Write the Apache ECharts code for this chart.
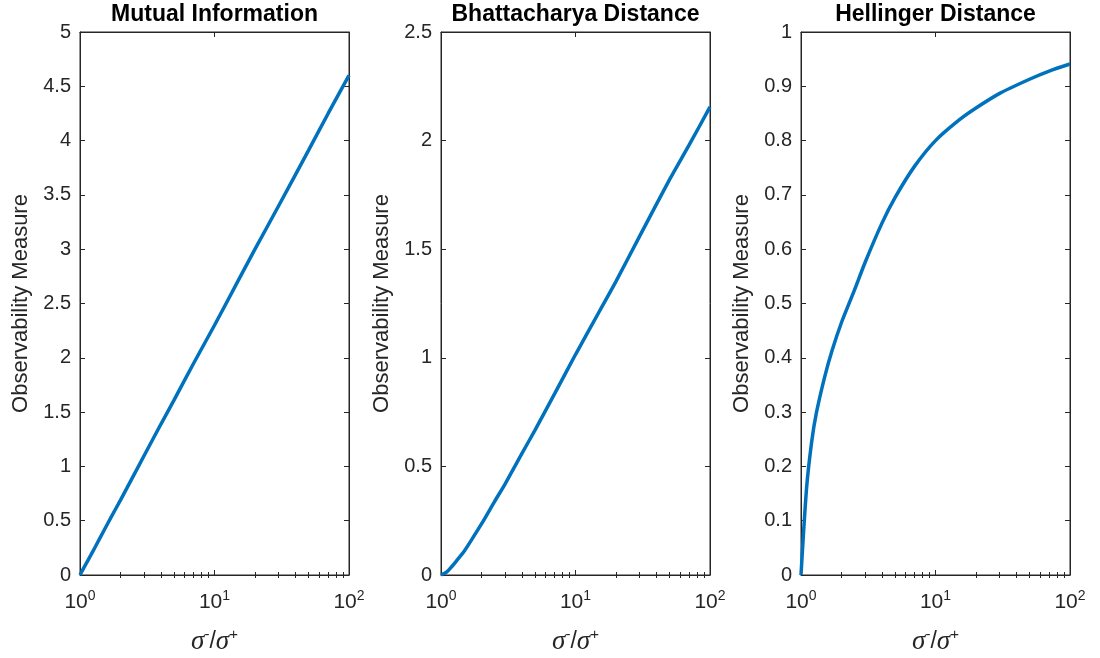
<!DOCTYPE html>
<html>
<head>
<meta charset="utf-8">
<title>Observability measures</title>
<script src="https://cdn.jsdelivr.net/npm/echarts@6/dist/echarts.min.js"></script>
<style>
  html, body { margin: 0; padding: 0; background: #fff; }
  #chart { width: 1100px; height: 658px; }
</style>
</head>
<body>
<div id="chart"></div>
<script>
// Ratio of standard deviations (sigma- / sigma+) where each measure is sampled
const ratio = [1, 1.1, 1.2, 1.3, 1.5, 1.7, 2, 2.5, 3, 4, 5, 7, 10, 15, 20, 30, 50, 70, 100];

// Observability measures at each ratio
const mutualInformation = [0, 0.095, 0.18, 0.26, 0.405, 0.53, 0.69, 0.915, 1.10, 1.39, 1.61, 1.95, 2.30, 2.71, 3.00, 3.40, 3.91, 4.25, 4.60];
const bhattacharyaDistance = [0, 0.013, 0.038, 0.064, 0.113, 0.165, 0.235, 0.338, 0.42, 0.56, 0.667, 0.835, 1.015, 1.212, 1.352, 1.56, 1.82, 1.98, 2.155];
const hellingerDistance = [0, 0.16, 0.245, 0.298, 0.365, 0.413, 0.465, 0.525, 0.576, 0.648, 0.695, 0.753, 0.80, 0.838, 0.86, 0.887, 0.913, 0.928, 0.941];

// Panel titles and y ranges
const titles = ['Mutual Information', 'Bhattacharya Distance', 'Hellinger Distance'];
const yMax = [5, 2.5, 1];
const yStep = [0.5, 0.5, 0.1];

// Log-axis tick positions
const majorTicks = [1, 10, 100];
const minorTicks = [2, 3, 4, 5, 6, 7, 8, 9, 20, 30, 40, 50, 60, 70, 80, 90];

const yName = 'Observability Measure';

// Layout of the three axes boxes
const layout = [
  { left: 80, width: 269 },
  { left: 441, width: 269 },
  { left: 801, width: 269 }
];
const boxTop = 32, boxHeight = 543;

const axisColor = '#262626';
const font = 'Liberation Sans, Arial, Helvetica, sans-serif';
const lineColor = '#0072BD';

const seriesValues = [mutualInformation, bhattacharyaDistance, hellingerDistance];

const grid = [], xAxis = [], yAxis = [], series = [], title = [];

layout.forEach((g, i) => {
  grid.push({
    left: g.left, top: boxTop, width: g.width, height: boxHeight,
    containLabel: false,
    outerBoundsMode: 'none',
    show: true, borderColor: axisColor, borderWidth: 1, backgroundColor: '#fff'
  });

  title.push({
    text: titles[i],
    left: g.left + g.width / 2,
    top: 3,
    padding: 0,
    textAlign: 'center',
    textStyle: { fontFamily: font, fontWeight: 'bold', fontSize: 23, color: '#000' }
  });

  const logBase = {
    type: 'log', logBase: 10, min: 1, max: 100, gridIndex: i,
    splitLine: { show: false }, minorTick: { show: false }
  };

  // bottom axis with major ticks, labels and name
  xAxis.push(Object.assign({}, logBase, {
    position: 'bottom',
    axisLine: { show: true, onZero: false, lineStyle: { color: axisColor, width: 1 } },
    axisTick: { show: true, inside: true, length: 5, customValues: majorTicks, lineStyle: { color: axisColor } },
    axisLabel: {
      show: true, customValues: majorTicks, margin: 14,
      fontFamily: font, fontSize: 21, color: axisColor,
      formatter: v => '{b|10}{s|' + Math.round(Math.log10(v)) + '}',
      rich: {
        b: { fontFamily: font, fontSize: 21, lineHeight: 26, color: axisColor },
        s: { fontFamily: font, fontSize: 14, lineHeight: 14, verticalAlign: 'top', color: axisColor }
      }
    },
    name: '{i|σ}{p|-}{n|/}{i|σ}{p|+}',
    nameLocation: 'middle',
    nameGap: 52,
    nameTextStyle: {
      rich: {
        i: { fontFamily: 'Liberation Serif, DejaVu Serif, serif', fontStyle: 'italic', fontSize: 27, lineHeight: 30, color: axisColor },
        n: { fontFamily: font, fontSize: 23, lineHeight: 30, color: axisColor },
        p: { fontFamily: font, fontSize: 15, lineHeight: 15, verticalAlign: 'top', color: axisColor }
      }
    }
  }));
  // bottom minor ticks
  xAxis.push(Object.assign({}, logBase, {
    position: 'bottom',
    axisLine: { show: false },
    axisTick: { show: true, inside: true, length: 3, customValues: minorTicks, lineStyle: { color: axisColor } },
    axisLabel: { show: false }
  }));
  // top major ticks
  xAxis.push(Object.assign({}, logBase, {
    position: 'top',
    axisLine: { show: true, onZero: false, lineStyle: { color: axisColor, width: 1 } },
    axisTick: { show: true, inside: true, length: 5, customValues: majorTicks, lineStyle: { color: axisColor } },
    axisLabel: { show: false }
  }));
  // top minor ticks
  xAxis.push(Object.assign({}, logBase, {
    position: 'top',
    axisLine: { show: false },
    axisTick: { show: true, inside: true, length: 3, customValues: minorTicks, lineStyle: { color: axisColor } },
    axisLabel: { show: false }
  }));

  // left y axis with labels and name
  yAxis.push({
    type: 'value', gridIndex: i, position: 'left',
    min: 0, max: yMax[i], interval: yStep[i],
    splitLine: { show: false },
    axisLine: { show: true, onZero: false, lineStyle: { color: axisColor, width: 1 } },
    axisTick: { show: true, inside: true, length: 5, lineStyle: { color: axisColor } },
    axisLabel: { margin: 9, fontFamily: font, fontSize: 20, color: axisColor },
    name: yName,
    nameLocation: 'middle',
    nameGap: 48,
    nameTextStyle: { fontFamily: font, fontSize: 22, color: axisColor }
  });
  // right y axis, ticks only
  yAxis.push({
    type: 'value', gridIndex: i, position: 'right',
    min: 0, max: yMax[i], interval: yStep[i],
    splitLine: { show: false },
    axisLine: { show: true, onZero: false, lineStyle: { color: axisColor, width: 1 } },
    axisTick: { show: true, inside: true, length: 5, lineStyle: { color: axisColor } },
    axisLabel: { show: false }
  });

  series.push({
    type: 'line',
    xAxisIndex: i * 4,
    yAxisIndex: i * 2,
    data: ratio.map((r, k) => [r, seriesValues[i][k]]),
    showSymbol: false,
    smooth: 0.25,
    clip: false,
    lineStyle: { color: lineColor, width: 3.5 },
    itemStyle: { color: lineColor },
    z: 3
  });
});

const chart = echarts.init(document.getElementById('chart'), null, { renderer: 'canvas' });
chart.setOption({
  animation: false,
  backgroundColor: '#fff',
  title, grid, xAxis, yAxis, series
});
</script>
</body>
</html>
